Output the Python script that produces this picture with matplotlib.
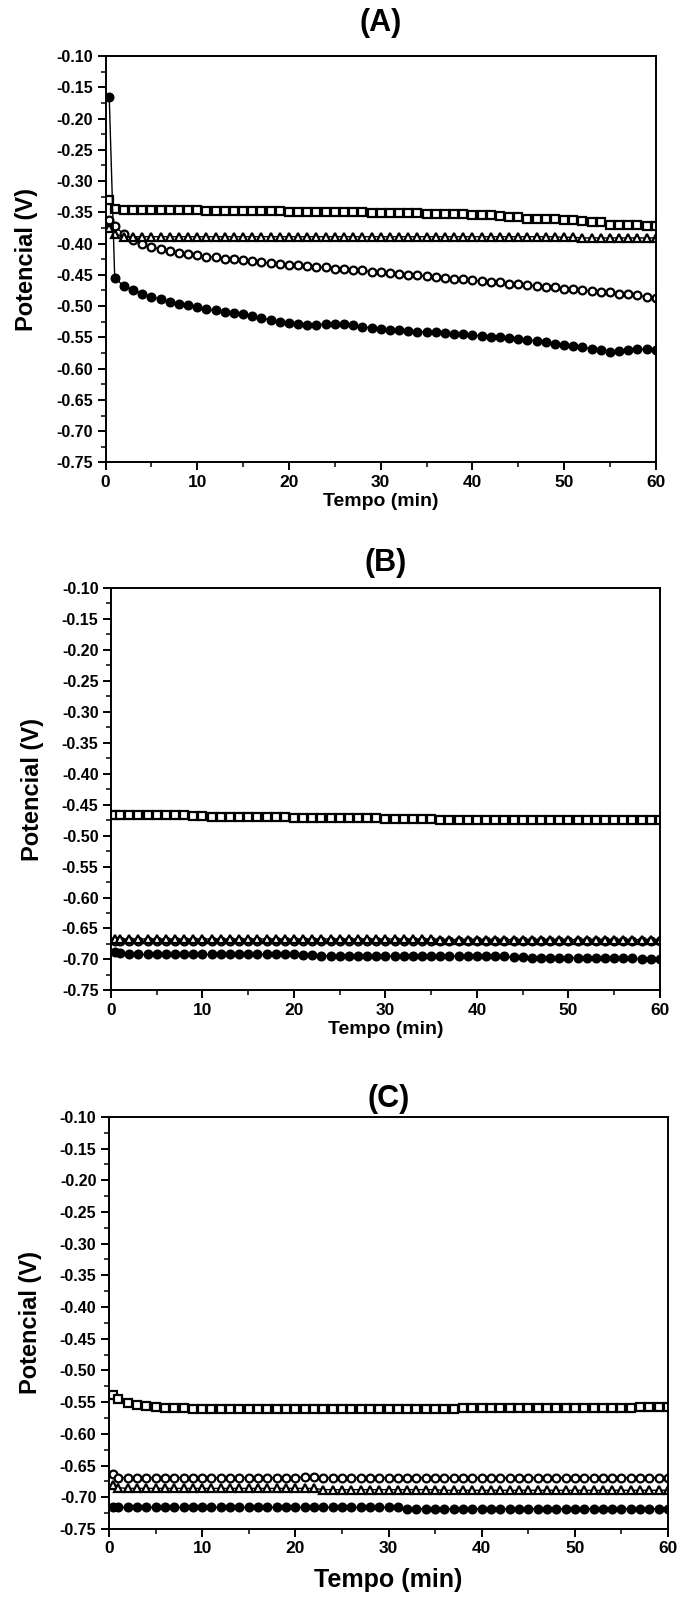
import matplotlib
matplotlib.use("Agg")
import matplotlib.pyplot as plt
from matplotlib.ticker import MultipleLocator, FormatStrFormatter

plt.rcParams['font.family'] = ['Liberation Sans', 'DejaVu Sans']
plt.rcParams['font.weight'] = 'bold'

# time axis (min); first reading taken just after t = 0
tempo = [0.4, 1, 2, 3, 4, 5, 6, 7, 8, 9, 10,
         11, 12, 13, 14, 15, 16, 17, 18, 19, 20,
         21, 22, 23, 24, 25, 26, 27, 28, 29, 30,
         31, 32, 33, 34, 35, 36, 37, 38, 39, 40,
         41, 42, 43, 44, 45, 46, 47, 48, 49, 50,
         51, 52, 53, 54, 55, 56, 57, 58, 59, 60]

# ---------------- panel (A) ----------------
a_quad = [-0.330, -0.345, -0.347, -0.347, -0.347, -0.347, -0.347, -0.347, -0.347, -0.347, -0.347,
          -0.348, -0.348, -0.348, -0.348, -0.348, -0.348, -0.348, -0.348, -0.348, -0.349,
          -0.349, -0.349, -0.350, -0.350, -0.350, -0.350, -0.350, -0.350, -0.351, -0.351,
          -0.351, -0.351, -0.351, -0.351, -0.352, -0.352, -0.352, -0.353, -0.353, -0.354,
          -0.354, -0.355, -0.356, -0.357, -0.358, -0.360, -0.360, -0.360, -0.361, -0.362,
          -0.362, -0.364, -0.365, -0.366, -0.370, -0.371, -0.371, -0.371, -0.372, -0.372]
a_tri = [-0.375, -0.385, -0.389, -0.389, -0.389, -0.389, -0.389, -0.389, -0.389, -0.389, -0.389,
         -0.389, -0.389, -0.389, -0.389, -0.389, -0.389, -0.389, -0.389, -0.389, -0.389,
         -0.389, -0.389, -0.389, -0.389, -0.389, -0.389, -0.389, -0.389, -0.389, -0.389,
         -0.389, -0.389, -0.389, -0.389, -0.389, -0.389, -0.389, -0.389, -0.389, -0.389,
         -0.389, -0.389, -0.389, -0.389, -0.389, -0.389, -0.389, -0.389, -0.389, -0.390,
         -0.390, -0.391, -0.391, -0.391, -0.391, -0.391, -0.391, -0.391, -0.391, -0.391]
a_circ = [-0.362, -0.372, -0.385, -0.395, -0.401, -0.405, -0.409, -0.412, -0.415, -0.417, -0.419,
          -0.421, -0.422, -0.424, -0.425, -0.427, -0.428, -0.430, -0.431, -0.433, -0.434,
          -0.435, -0.436, -0.437, -0.438, -0.440, -0.441, -0.442, -0.443, -0.445, -0.446,
          -0.447, -0.448, -0.450, -0.451, -0.452, -0.453, -0.455, -0.456, -0.457, -0.459,
          -0.460, -0.461, -0.462, -0.464, -0.465, -0.466, -0.468, -0.469, -0.470, -0.472,
          -0.473, -0.474, -0.476, -0.477, -0.478, -0.480, -0.481, -0.483, -0.485, -0.487]
a_fill = [-0.165, -0.455, -0.468, -0.474, -0.480, -0.485, -0.489, -0.493, -0.496, -0.499, -0.502,
          -0.505, -0.507, -0.509, -0.511, -0.513, -0.516, -0.519, -0.522, -0.525, -0.527,
          -0.529, -0.530, -0.530, -0.529, -0.528, -0.529, -0.531, -0.533, -0.535, -0.537,
          -0.538, -0.539, -0.540, -0.541, -0.541, -0.542, -0.543, -0.544, -0.545, -0.546,
          -0.548, -0.549, -0.550, -0.551, -0.552, -0.554, -0.556, -0.558, -0.560, -0.562,
          -0.564, -0.566, -0.568, -0.570, -0.573, -0.572, -0.570, -0.569, -0.569, -0.570]

# ---------------- panel (B) ----------------
b_quad = [-0.467, -0.467, -0.467, -0.467, -0.467, -0.467, -0.467, -0.467, -0.467, -0.468, -0.469,
          -0.470, -0.470, -0.470, -0.470, -0.470, -0.470, -0.470, -0.470, -0.470, -0.471,
          -0.471, -0.472, -0.472, -0.472, -0.472, -0.472, -0.472, -0.472, -0.472, -0.473,
          -0.473, -0.473, -0.473, -0.473, -0.473, -0.474, -0.474, -0.474, -0.474, -0.474,
          -0.474, -0.474, -0.474, -0.474, -0.474, -0.474, -0.474, -0.474, -0.474, -0.474,
          -0.474, -0.474, -0.474, -0.474, -0.474, -0.474, -0.474, -0.474, -0.474, -0.474]
b_tri = [-0.667, -0.667, -0.667, -0.667, -0.667, -0.667, -0.667, -0.667, -0.667, -0.667, -0.667,
         -0.667, -0.667, -0.667, -0.667, -0.667, -0.667, -0.667, -0.667, -0.667, -0.667,
         -0.667, -0.667, -0.667, -0.667, -0.667, -0.667, -0.667, -0.667, -0.667, -0.667,
         -0.667, -0.667, -0.667, -0.667, -0.667, -0.668, -0.668, -0.668, -0.668, -0.668,
         -0.668, -0.668, -0.668, -0.668, -0.668, -0.668, -0.668, -0.668, -0.668, -0.668,
         -0.668, -0.668, -0.668, -0.668, -0.668, -0.668, -0.668, -0.668, -0.668, -0.668]
b_circ = [-0.671, -0.671, -0.671, -0.671, -0.671, -0.671, -0.671, -0.671, -0.671, -0.671, -0.671,
          -0.671, -0.671, -0.671, -0.671, -0.671, -0.671, -0.671, -0.671, -0.671, -0.671,
          -0.671, -0.671, -0.671, -0.671, -0.671, -0.671, -0.671, -0.671, -0.671, -0.671,
          -0.671, -0.671, -0.671, -0.671, -0.671, -0.671, -0.671, -0.671, -0.671, -0.671,
          -0.671, -0.671, -0.671, -0.671, -0.671, -0.671, -0.671, -0.671, -0.671, -0.671,
          -0.671, -0.671, -0.671, -0.671, -0.671, -0.671, -0.671, -0.671, -0.671, -0.671]
b_fill = [-0.688, -0.690, -0.692, -0.692, -0.692, -0.692, -0.692, -0.692, -0.692, -0.692, -0.692,
          -0.692, -0.692, -0.692, -0.692, -0.692, -0.692, -0.692, -0.692, -0.692, -0.692,
          -0.693, -0.693, -0.694, -0.694, -0.694, -0.694, -0.694, -0.694, -0.694, -0.694,
          -0.695, -0.695, -0.695, -0.695, -0.695, -0.695, -0.695, -0.694, -0.694, -0.695,
          -0.695, -0.695, -0.695, -0.696, -0.696, -0.697, -0.697, -0.697, -0.697, -0.697,
          -0.697, -0.697, -0.697, -0.698, -0.698, -0.698, -0.698, -0.699, -0.699, -0.699]

# ---------------- panel (C) ----------------
c_quad = [-0.538, -0.545, -0.551, -0.554, -0.556, -0.558, -0.559, -0.559, -0.560, -0.561, -0.561,
          -0.561, -0.561, -0.561, -0.561, -0.561, -0.561, -0.561, -0.561, -0.561, -0.561,
          -0.561, -0.561, -0.561, -0.561, -0.561, -0.561, -0.561, -0.561, -0.561, -0.561,
          -0.561, -0.561, -0.561, -0.561, -0.561, -0.561, -0.561, -0.559, -0.559, -0.559,
          -0.559, -0.559, -0.559, -0.559, -0.559, -0.559, -0.559, -0.559, -0.559, -0.559,
          -0.559, -0.559, -0.559, -0.559, -0.559, -0.559, -0.558, -0.558, -0.558, -0.558]
c_circ = [-0.664, -0.669, -0.669, -0.669, -0.669, -0.669, -0.669, -0.669, -0.669, -0.669, -0.669,
          -0.669, -0.669, -0.669, -0.669, -0.669, -0.669, -0.669, -0.669, -0.669, -0.669,
          -0.668, -0.668, -0.669, -0.669, -0.669, -0.669, -0.669, -0.669, -0.669, -0.669,
          -0.669, -0.669, -0.669, -0.669, -0.669, -0.669, -0.669, -0.669, -0.669, -0.669,
          -0.669, -0.669, -0.669, -0.669, -0.669, -0.669, -0.669, -0.669, -0.669, -0.669,
          -0.669, -0.669, -0.669, -0.669, -0.669, -0.669, -0.669, -0.669, -0.669, -0.669]
c_tri = [-0.680, -0.685, -0.686, -0.686, -0.686, -0.686, -0.686, -0.686, -0.686, -0.686, -0.686,
         -0.686, -0.686, -0.686, -0.686, -0.686, -0.686, -0.686, -0.686, -0.686, -0.686,
         -0.686, -0.686, -0.688, -0.688, -0.688, -0.688, -0.688, -0.688, -0.688, -0.688,
         -0.688, -0.688, -0.688, -0.688, -0.688, -0.689, -0.689, -0.689, -0.689, -0.689,
         -0.689, -0.689, -0.689, -0.689, -0.689, -0.689, -0.689, -0.689, -0.689, -0.689,
         -0.689, -0.689, -0.689, -0.689, -0.689, -0.689, -0.689, -0.689, -0.689, -0.689]
c_fill = [-0.716, -0.716, -0.716, -0.716, -0.716, -0.716, -0.716, -0.716, -0.716, -0.716, -0.716,
          -0.716, -0.716, -0.716, -0.716, -0.716, -0.716, -0.716, -0.716, -0.716, -0.716,
          -0.716, -0.716, -0.716, -0.716, -0.716, -0.716, -0.716, -0.716, -0.716, -0.716,
          -0.716, -0.718, -0.718, -0.718, -0.718, -0.718, -0.718, -0.718, -0.718, -0.718,
          -0.718, -0.718, -0.718, -0.718, -0.718, -0.718, -0.718, -0.718, -0.718, -0.718,
          -0.718, -0.718, -0.718, -0.718, -0.718, -0.718, -0.718, -0.718, -0.718, -0.719]

panels = [
    ("(A)", [0.155, 0.711, 0.808, 0.254], a_quad, a_tri, a_circ, a_fill),
    ("(B)", [0.163, 0.381, 0.806, 0.2515], b_quad, b_tri, b_circ, b_fill),
    ("(C)", [0.160, 0.0444, 0.821, 0.2576], c_quad, c_tri, c_circ, c_fill),
]
title_pad = {"(A)": 18, "(B)": 12, "(C)": 7}
xlabel_size = {"(A)": 14, "(B)": 14, "(C)": 18}
xlabel_pad = {"(A)": 2, "(B)": 2, "(C)": 8}


def draw_series(ax, y, marker, filled):
    ax.plot(tempo, y, color='black', lw=1.0, marker=marker, markersize=5.6,
            markerfacecolor='black' if filled else 'white',
            markeredgecolor='black', markeredgewidth=1.6)


fig = plt.figure(figsize=(6.81, 16), dpi=100)

for title, pos, quad, tri, circ, fill in panels:
    ax = fig.add_axes(pos)
    draw_series(ax, quad, 's', False)
    draw_series(ax, circ, 'o', False)
    draw_series(ax, tri, '^', False)
    draw_series(ax, fill, 'o', True)

    ax.set_xlim(0, 60)
    ax.set_ylim(-0.75, -0.10)
    ax.xaxis.set_major_locator(MultipleLocator(10))
    ax.xaxis.set_minor_locator(MultipleLocator(5))
    ax.yaxis.set_major_locator(MultipleLocator(0.05))
    ax.yaxis.set_minor_locator(MultipleLocator(0.025))
    ax.yaxis.set_major_formatter(FormatStrFormatter('%.2f'))
    ax.tick_params(which='major', direction='out', length=6, width=1.4, labelsize=11.5, pad=3)
    ax.tick_params(axis='x', which='major', labelsize=12.5)
    ax.tick_params(which='minor', direction='out', length=3.5, width=1.1)
    for sp in ax.spines.values():
        sp.set_linewidth(1.4)
    for lbl in ax.get_xticklabels() + ax.get_yticklabels():
        lbl.set_fontweight('bold')

    ax.set_title(title, fontsize=22, fontweight='bold', pad=title_pad[title])
    ax.set_ylabel('Potencial (V)', fontsize=17, fontweight='bold', labelpad=13)
    ax.set_xlabel('Tempo (min)', fontsize=xlabel_size[title],
                  fontweight='bold', labelpad=xlabel_pad[title])

fig.savefig('out.png', dpi=100)
